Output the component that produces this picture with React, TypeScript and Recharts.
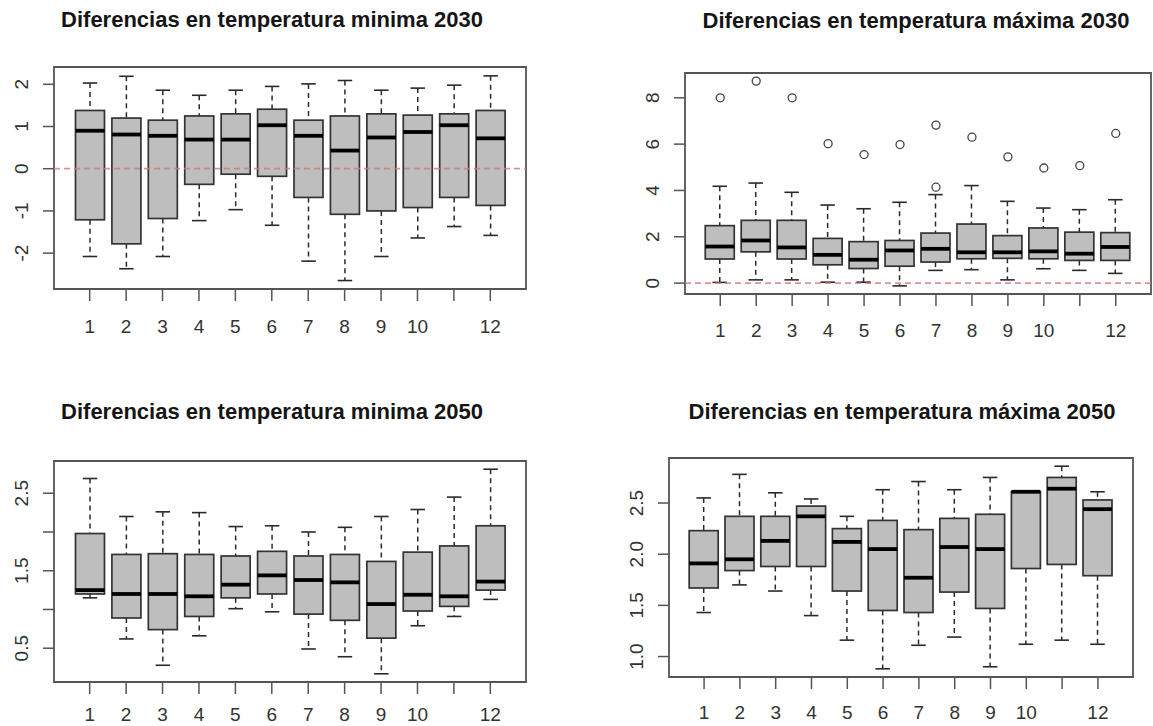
import {
  ComposedChart,
  Bar,
  Scatter,
  XAxis,
  YAxis,
  ReferenceLine,
  ReferenceArea,
} from "recharts";

const months = [1, 2, 3, 4, 5, 6, 7, 8, 9, 10, 11, 12];
// R drops the "11" label because it would overlap
const monthLabels = ["1", "2", "3", "4", "5", "6", "7", "8", "9", "10", "", "12"];

// Diferencias en temperatura mínima 2030
const min30Low = [-2.08, -2.37, -2.08, -1.23, -0.97, -1.34, -2.19, -2.65, -2.08, -1.64, -1.37, -1.58];
const min30Q1 = [-1.21, -1.78, -1.18, -0.37, -0.13, -0.18, -0.68, -1.08, -1.0, -0.92, -0.68, -0.87];
const min30Med = [0.9, 0.81, 0.78, 0.69, 0.69, 1.03, 0.78, 0.43, 0.74, 0.87, 1.03, 0.72];
const min30Q3 = [1.38, 1.2, 1.15, 1.25, 1.3, 1.41, 1.15, 1.25, 1.3, 1.27, 1.3, 1.38];
const min30High = [2.03, 2.19, 1.86, 1.74, 1.86, 1.95, 2.01, 2.09, 1.86, 1.91, 1.98, 2.2];

// Diferencias en temperatura máxima 2030
const max30Low = [0.03, 0.14, 0.14, 0.04, 0.04, -0.12, 0.55, 0.58, 0.14, 0.62, 0.55, 0.42];
const max30Q1 = [1.04, 1.35, 1.04, 0.79, 0.63, 0.73, 0.91, 1.05, 1.07, 1.05, 0.98, 0.98];
const max30Med = [1.58, 1.84, 1.54, 1.22, 1.01, 1.41, 1.48, 1.33, 1.33, 1.37, 1.27, 1.56];
const max30Q3 = [2.48, 2.71, 2.71, 1.93, 1.79, 1.84, 2.16, 2.55, 2.05, 2.38, 2.2, 2.18];
const max30High = [4.18, 4.32, 3.92, 3.37, 3.21, 3.49, 3.82, 4.21, 3.53, 3.24, 3.17, 3.6];
const max30Out = [8.0, 8.72, 8.0, 6.02, 5.55, 5.98, 6.82, 6.3, 5.45, 4.97, 5.07, 6.46];
const max30Out2 = [null, null, null, null, null, null, 4.14, null, null, null, null, null];

// Diferencias en temperatura mínima 2050
const min50Low = [1.15, 0.62, 0.28, 0.66, 1.01, 0.97, 0.49, 0.39, 0.17, 0.79, 0.91, 1.13];
const min50Q1 = [1.2, 0.89, 0.74, 0.91, 1.15, 1.2, 0.94, 0.86, 0.63, 0.98, 1.04, 1.25];
const min50Med = [1.25, 1.2, 1.2, 1.17, 1.32, 1.44, 1.38, 1.35, 1.07, 1.19, 1.17, 1.36];
const min50Q3 = [1.98, 1.71, 1.72, 1.71, 1.69, 1.75, 1.69, 1.71, 1.62, 1.74, 1.82, 2.08];
const min50High = [2.69, 2.2, 2.26, 2.25, 2.07, 2.08, 2.0, 2.06, 2.2, 2.29, 2.45, 2.81];

// Diferencias en temperatura máxima 2050
const max50Low = [1.43, 1.7, 1.64, 1.4, 1.16, 0.88, 1.11, 1.19, 0.9, 1.12, 1.16, 1.12];
const max50Q1 = [1.67, 1.84, 1.88, 1.88, 1.64, 1.45, 1.43, 1.63, 1.47, 1.86, 1.9, 1.79];
const max50Med = [1.91, 1.95, 2.13, 2.37, 2.12, 2.05, 1.77, 2.07, 2.05, 2.61, 2.64, 2.44];
const max50Q3 = [2.23, 2.37, 2.37, 2.47, 2.25, 2.33, 2.24, 2.35, 2.39, 2.61, 2.75, 2.53];
const max50High = [2.55, 2.78, 2.6, 2.54, 2.37, 2.63, 2.71, 2.63, 2.75, 2.61, 2.86, 2.61];

const FONT = "'Liberation Sans', Arial, sans-serif";
const TICK_FONT = 19;

const buildRows = (
  low: number[],
  q1: number[],
  med: number[],
  q3: number[],
  high: number[],
  out?: (number | null)[],
  out2?: (number | null)[]
) =>
  months.map((m, i) => ({
    month: m,
    range: [low[i], high[i]],
    low: low[i],
    q1: q1[i],
    med: med[i],
    q3: q3[i],
    high: high[i],
    out: out ? out[i] : null,
    out2: out2 ? out2[i] : null,
  }));

// draws whiskers, box and median from the bar's pixel span (low..high)
const BoxShape = (props: any) => {
  const { x, y, width, height, payload } = props;
  if (x == null || y == null || !payload) return null;
  const top = Math.min(y, y + height);
  const bottom = Math.max(y, y + height);
  const span = payload.high - payload.low || 1;
  const py = (v: number) => bottom - ((v - payload.low) / span) * (bottom - top);
  const cx = x + width / 2;
  const cap = width / 4;
  const line = "#2a2a2a";
  return (
    <g>
      <line x1={cx} x2={cx} y1={py(payload.high)} y2={py(payload.q3)} stroke={line} strokeWidth={1.5} strokeDasharray="5 4" />
      <line x1={cx} x2={cx} y1={py(payload.q1)} y2={py(payload.low)} stroke={line} strokeWidth={1.5} strokeDasharray="5 4" />
      <line x1={cx - cap} x2={cx + cap} y1={py(payload.high)} y2={py(payload.high)} stroke={line} strokeWidth={1.6} />
      <line x1={cx - cap} x2={cx + cap} y1={py(payload.low)} y2={py(payload.low)} stroke={line} strokeWidth={1.6} />
      <rect
        x={x}
        y={py(payload.q3)}
        width={width}
        height={py(payload.q1) - py(payload.q3)}
        fill="#bebebe"
        stroke="#333"
        strokeWidth={1.7}
      />
      <line x1={x} x2={x + width} y1={py(payload.med)} y2={py(payload.med)} stroke="#000" strokeWidth={3.8} />
    </g>
  );
};

const OutlierShape = (props: any) => {
  const { cx, cy } = props;
  if (cx == null || cy == null || Number.isNaN(cy)) return null;
  return <circle cx={cx} cy={cy} r={4} fill="none" stroke="#444" strokeWidth={1.3} />;
};

const makeXTick = (dy: number) => (props: any) => {
  const { x, y, index } = props;
  return (
    <text x={x} y={y + dy} textAnchor="middle" dominantBaseline="central" fontSize={TICK_FONT} fill="#333" fontFamily={FONT}>
      {monthLabels[index]}
    </text>
  );
};

const makeYTick = (ticks: number[], labels: string[]) => (props: any) => {
  const { x, y, payload } = props;
  const i = ticks.indexOf(payload.value);
  return (
    <text
      transform={`translate(${x - 22}, ${y}) rotate(-90)`}
      textAnchor="middle"
      dominantBaseline="central"
      fontSize={TICK_FONT}
      fill="#333"
      fontFamily={FONT}
    >
      {i >= 0 ? labels[i] : ""}
    </text>
  );
};

interface PanelProps {
  title: string;
  titleX: number;
  titleY: number;
  plot: { l: number; t: number; r: number; b: number };
  labelDy: number;
  domain: [number, number];
  yTicks: number[];
  yLabels: string[];
  rows: any[];
  zeroLine?: boolean;
  outliers?: boolean;
}

function BoxPanel({ title, titleX, titleY, plot, labelDy, domain, yTicks, yLabels, rows, zeroLine, outliers }: PanelProps) {
  const width = plot.r - plot.l + 70;
  const height = plot.b - plot.t + 70;
  const xDomain: [number, number] = [0.02, 12.98];
  return (
    <>
      <div
        style={{
          position: "absolute",
          left: titleX - 260,
          width: 520,
          top: titleY - 14,
          height: 28,
          lineHeight: "28px",
          textAlign: "center",
          fontFamily: FONT,
          fontWeight: "bold",
          fontSize: 22,
          color: "#151515",
          whiteSpace: "nowrap",
        }}
      >
        {title}
      </div>
      <div style={{ position: "absolute", left: plot.l - 60, top: plot.t - 10 }}>
        <ComposedChart
          width={width}
          height={height}
          data={rows}
          margin={{ top: 10, right: 10, bottom: 10, left: 10 }}
        >
          <XAxis
            type="number"
            dataKey="month"
            domain={xDomain}
            ticks={months}
            allowDataOverflow
            axisLine={false}
            tickSize={12}
            tickMargin={0}
            height={50}
            tickLine={{ stroke: "#555", strokeWidth: 1.5 }}
            tick={makeXTick(labelDy)}
            interval={0}
          />
          <YAxis
            type="number"
            domain={domain}
            ticks={yTicks}
            allowDataOverflow
            axisLine={false}
            tickSize={11}
            tickMargin={0}
            width={50}
            tickLine={{ stroke: "#555", strokeWidth: 1.5 }}
            tick={makeYTick(yTicks, yLabels)}
            interval={0}
          />
          <ReferenceArea
            x1={xDomain[0]}
            x2={xDomain[1]}
            y1={domain[0]}
            y2={domain[1]}
            fill="none"
            stroke="#555"
            strokeWidth={1.8}
            ifOverflow="visible"
          />
          <Bar dataKey="range" barSize={29} shape={<BoxShape />} isAnimationActive={false} />
          {outliers && (
            <Scatter dataKey="out" shape={<OutlierShape />} isAnimationActive={false} />
          )}
          {outliers && (
            <Scatter dataKey="out2" shape={<OutlierShape />} isAnimationActive={false} />
          )}
          {zeroLine && (
            <ReferenceLine y={0} stroke="#cf7a7a" strokeWidth={1.8} strokeDasharray="6 4" strokeOpacity={0.8} />
          )}
        </ComposedChart>
      </div>
    </>
  );
}

export default function App() {
  return (
    <div
      style={{
        position: "absolute",
        left: 0,
        top: 0,
        width: 1153,
        height: 726,
        background: "#fff",
        overflow: "hidden",
      }}
    >
      <BoxPanel
        title="Diferencias en temperatura minima 2030"
        titleX={272}
        titleY={20}
        plot={{ l: 54, t: 67, r: 526, b: 289 }}
        labelDy={25}
        domain={[-2.85, 2.41]}
        yTicks={[-2, -1, 0, 1, 2]}
        yLabels={["-2", "-1", "0", "1", "2"]}
        rows={buildRows(min30Low, min30Q1, min30Med, min30Q3, min30High)}
        zeroLine
      />
      <BoxPanel
        title="Diferencias en temperatura máxima 2030"
        titleX={916}
        titleY={21}
        plot={{ l: 685, t: 73, r: 1151, b: 294 }}
        labelDy={24}
        domain={[-0.47, 9.07]}
        yTicks={[0, 2, 4, 6, 8]}
        yLabels={["0", "2", "4", "6", "8"]}
        rows={buildRows(max30Low, max30Q1, max30Med, max30Q3, max30High, max30Out, max30Out2)}
        zeroLine
        outliers
      />
      <BoxPanel
        title="Diferencias en temperatura minima 2050"
        titleX={272}
        titleY={412}
        plot={{ l: 54, t: 461, r: 526, b: 682 }}
        labelDy={20}
        domain={[0.064, 2.916]}
        yTicks={[0.5, 1.0, 1.5, 2.0, 2.5]}
        yLabels={["0.5", "", "1.5", "", "2.5"]}
        rows={buildRows(min50Low, min50Q1, min50Med, min50Q3, min50High)}
      />
      <BoxPanel
        title="Diferencias en temperatura máxima 2050"
        titleX={902}
        titleY={412}
        plot={{ l: 669, t: 458, r: 1133, b: 677 }}
        labelDy={23}
        domain={[0.8, 2.94]}
        yTicks={[1.0, 1.5, 2.0, 2.5]}
        yLabels={["1.0", "1.5", "2.0", "2.5"]}
        rows={buildRows(max50Low, max50Q1, max50Med, max50Q3, max50High)}
      />
    </div>
  );
}
